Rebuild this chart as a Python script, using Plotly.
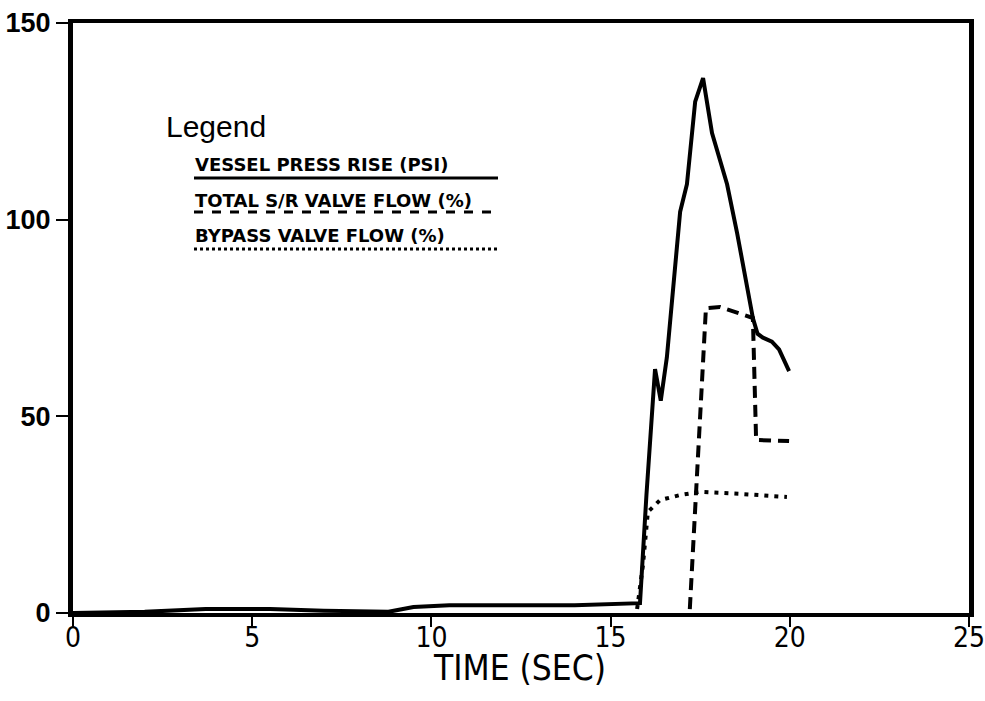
import plotly.graph_objects as go

# Vessel pressure rise (PSI)
press_t = [0, 2, 3.7, 4.5, 5.5, 7, 8.8, 9.5, 10.5, 12, 14, 15.82, 16.0, 16.24, 16.4, 16.57, 16.94,
           17.13, 17.36, 17.58, 17.83, 18.25, 18.53, 18.97, 19.1, 19.25, 19.5, 19.7, 19.85, 19.98]
press_v = [0, 0.3, 1.0, 1.0, 1.0, 0.6, 0.3, 1.5, 2.0, 2.0, 2.0, 2.5, 30, 62, 54, 65, 102,
           109, 130, 136, 122, 109, 96.6, 75, 71, 70, 69, 67, 64, 61.5]

# Total S/R valve flow (%)
srv_t = [17.21, 17.66, 18.05, 18.75, 18.97, 19.06, 19.5, 19.98]
srv_v = [1, 77.5, 77.8, 75.8, 75, 44, 43.8, 43.7]

# Bypass valve flow (%)
byp_t = [15.74, 15.9, 16.04, 16.38, 16.94, 17.5, 18.6, 19.3, 19.92]
byp_v = [1, 12, 25.7, 28.7, 30, 30.8, 30.3, 29.8, 29.5]

x_ticks = [0, 5, 10, 15, 20, 25]
y_ticks = [0, 50, 100, 150]
x_title = "TIME (SEC)"
legend_labels = ["VESSEL PRESS RISE (PSI)", "TOTAL S/R VALVE FLOW (%)", "BYPASS VALVE FLOW (%)"]

COND = "DejaVu Sans Condensed, Liberation Sans Narrow, sans-serif"

fig = go.Figure()
fig.add_trace(go.Scatter(x=press_t, y=press_v, mode="lines",
                         line=dict(color="black", width=4), showlegend=False))
fig.add_trace(go.Scatter(x=srv_t, y=srv_v, mode="lines",
                         line=dict(color="black", width=4, dash="12px,7px"), showlegend=False))
fig.add_trace(go.Scatter(x=byp_t, y=byp_v, mode="lines",
                         line=dict(color="black", width=4, dash="4px,6px"), showlegend=False))

W, H = 985, 701
L, R, T, B = 73, 16, 23, 88
pw, ph = W - L - R, H - T - B

def px(x):
    return (x - L) / pw

def py(y):
    return (H - B - y) / ph

annotations = [dict(text="Legend", x=px(164), y=py(126), xref="paper", yref="paper",
                    xanchor="left", yanchor="middle", showarrow=False,
                    font=dict(family="Liberation Sans, Arial, sans-serif", size=30, color="black")),
               dict(text=x_title, x=px(519), y=py(668), xref="paper", yref="paper",
                    xanchor="center", yanchor="middle", showarrow=False,
                    font=dict(family=COND, size=35, color="black"))]
shapes = []
rows = [(164, 178, "solid"), (200, 212, "dash"), (236, 249, "dot")]
for (ty, ly, dash), lab in zip(rows, legend_labels):
    annotations.append(dict(text="<b>" + lab + "</b>", x=px(193), y=py(ty), xref="paper", yref="paper",
                            xanchor="left", yanchor="middle", showarrow=False,
                            font=dict(family="DejaVu Sans, sans-serif", size=18, color="black")))
    shapes.append(dict(type="line", xref="paper", yref="paper", x0=px(194), x1=px(498),
                       y0=py(ly), y1=py(ly), line=dict(color="black", width=3, dash=dash)))

fig.update_layout(
    width=W, height=H,
    margin=dict(l=L, r=R, t=T, b=B),
    paper_bgcolor="white", plot_bgcolor="white",
    annotations=annotations, shapes=shapes,
    xaxis=dict(range=[0, 25], tickvals=x_ticks, ticktext=[str(v) for v in x_ticks],
               automargin=False, ticklabeloverflow="allow", ticklabelstandoff=-14,
               showgrid=False, zeroline=False, showline=True, linecolor="black", linewidth=4,
               mirror=True, ticks="outside", ticklen=10, tickwidth=2, tickcolor="black",
               tickfont=dict(family=COND, size=28, color="black")),
    yaxis=dict(range=[0, 150], tickvals=y_ticks, ticktext=["<b>%d</b>" % v for v in y_ticks],
               automargin=False, ticklabeloverflow="allow",
               showgrid=False, zeroline=False, showline=True, linecolor="black", linewidth=5,
               mirror=True, ticks="outside", ticklen=12, tickwidth=2, tickcolor="black",
               tickfont=dict(family="Liberation Sans, Arial, sans-serif", size=27, color="black")),
)

fig.write_html("out.html")
